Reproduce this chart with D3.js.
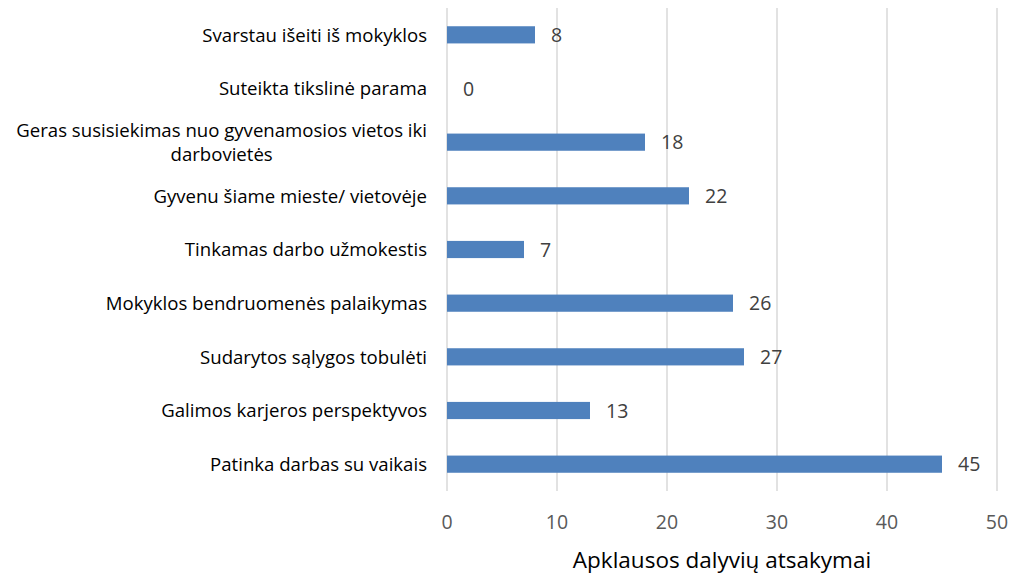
<!DOCTYPE html>
<html>
<head>
<meta charset="utf-8">
<script src="https://cdn.jsdelivr.net/npm/d3@7"></script>
<style>
  html, body { margin: 0; padding: 0; background: #fff; }
  svg { display: block; }
</style>
</head>
<body>
<svg id="chart" width="1011" height="575"></svg>
<script>
const categories = [
  ["Svarstau išeiti iš mokyklos"],
  ["Suteikta tikslinė parama"],
  ["Geras susisiekimas nuo gyvenamosios vietos iki", "darbovietės"],
  ["Gyvenu šiame mieste/ vietovėje"],
  ["Tinkamas darbo užmokestis"],
  ["Mokyklos bendruomenės palaikymas"],
  ["Sudarytos sąlygos tobulėti"],
  ["Galimos karjeros perspektyvos"],
  ["Patinka darbas su vaikais"]
];
const values = [8, 0, 18, 22, 7, 26, 27, 13, 45];
const xTicks = [0, 10, 20, 30, 40, 50];
const axisTitle = "Apklausos dalyvių atsakymai";

(function () {
const FONT = "'Open Sans', 'Noto Sans', sans-serif";
const svg = d3.select("#chart");
const pL = 447, pR = 997, pT = 8, pB = 491;

const x = d3.scaleLinear().domain([0, 50]).range([pL, pR]);
const y = d3.scaleBand().domain(d3.range(categories.length)).range([pT, pB])
  .paddingInner(0.68).paddingOuter(0.34);

// gridlines
svg.append("g").selectAll("line").data(xTicks).join("line")
  .attr("x1", d => x(d)).attr("x2", d => x(d))
  .attr("y1", pT).attr("y2", pB)
  .attr("stroke", "#d9d9d9").attr("stroke-width", 1.5);

// bars
svg.append("g").selectAll("rect").data(values).join("rect")
  .attr("x", x(0))
  .attr("y", (d, i) => y(i))
  .attr("width", d => x(d) - x(0))
  .attr("height", y.bandwidth())
  .attr("fill", "#4f81bd");

// value labels
svg.append("g").selectAll("text").data(values).join("text")
  .attr("x", d => x(d) + 16)
  .attr("y", (d, i) => y(i) + y.bandwidth() / 2)
  .attr("dy", "0.36em")
  .attr("font-family", FONT).attr("font-size", 19.5)
  .attr("fill", "#404040")
  .text(d => d);

// category labels
const catG = svg.append("g");
categories.forEach((lines, i) => {
  const cy = y(i) + y.bandwidth() / 2;
  const lh = 24;
  const t = catG.append("text")
    .attr("font-family", FONT).attr("font-size", 18.6)
    .attr("fill", "#000");
  const spans = lines.map((ln, j) => t.append("tspan")
    .attr("y", cy + (j - (lines.length - 1) / 2) * lh)
    .attr("dy", "0.36em")
    .text(ln));
  const widths = spans.map(s => s.node().getComputedTextLength());
  const maxW = d3.max(widths);
  const rightEdge = 427;
  spans.forEach(s => {
    s.attr("text-anchor", "middle").attr("x", rightEdge - maxW / 2);
  });
});

// x axis tick labels
svg.append("g").selectAll("text").data(xTicks).join("text")
  .attr("x", d => x(d)).attr("y", 522)
  .attr("dy", "0.36em")
  .attr("text-anchor", "middle")
  .attr("font-family", FONT).attr("font-size", 19.5)
  .attr("fill", "#595959")
  .text(d => d);

// axis title
svg.append("text")
  .attr("x", (pL + pR) / 2).attr("y", 560)
  .attr("dy", "0.36em")
  .attr("text-anchor", "middle")
  .attr("font-family", FONT).attr("font-size", 22.5)
  .attr("fill", "#000")
  .text(axisTitle);
})();
</script>
</body>
</html>
